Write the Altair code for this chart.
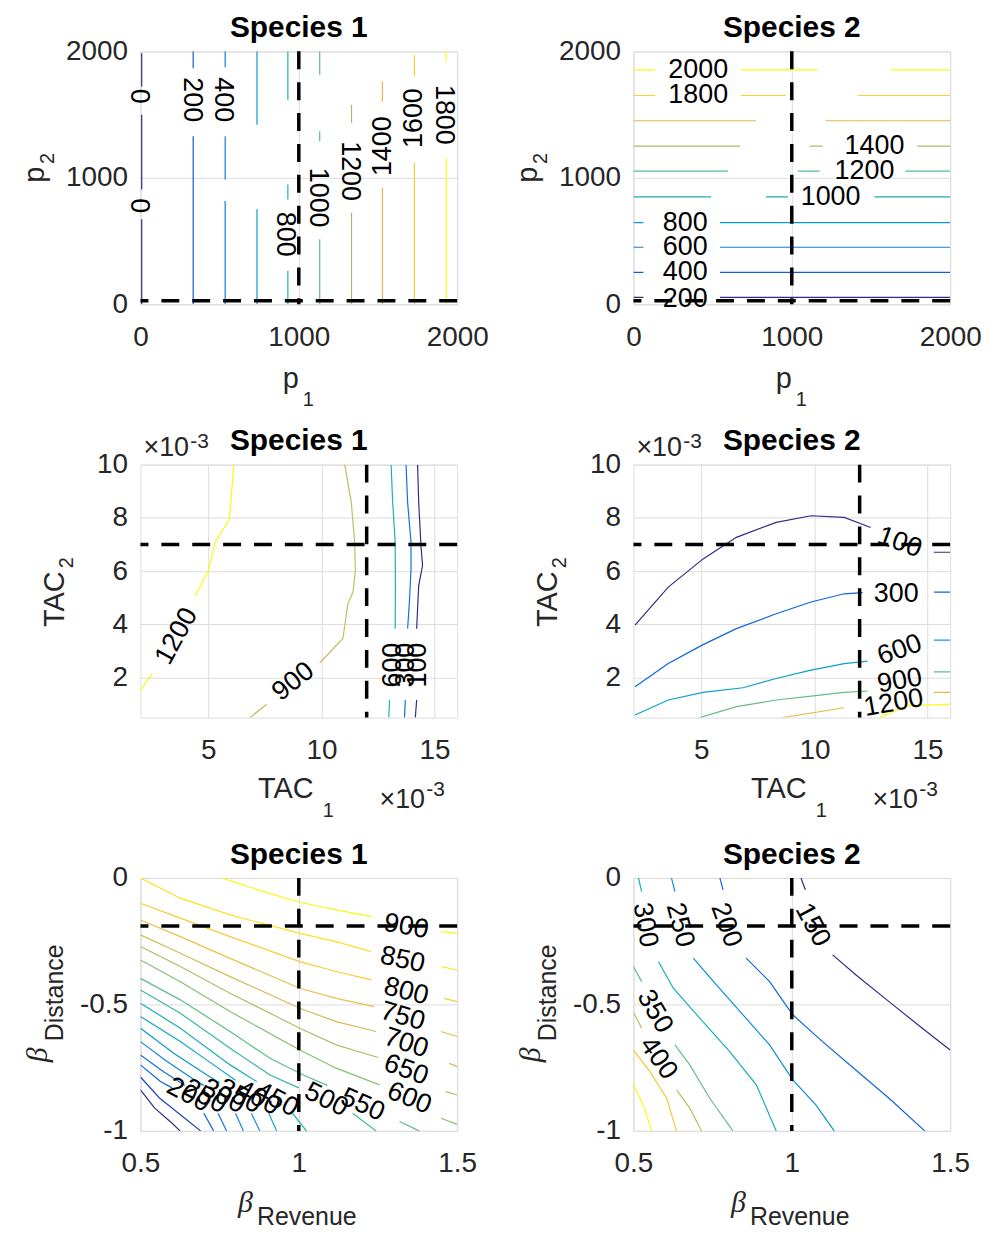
import altair as alt
import pandas as pd

FONT = "Liberation Sans"
SERIF = "Liberation Serif"
W, H = 318, 254
TICK_FS = 28
LAB_FS = 27
TITLE_FS = 30
AX_FS = 29
SUB_FS = 20
AXC = "#262626"

# ---------------- data ----------------
# Panel A  (Species 1, p1 vs p2): vertical contour lines, drawn as spans of p2
A_levels = [0, 200, 400, 600, 800, 1000, 1200, 1400, 1600, 1800]
A_xpos = [8, 333, 535, 736, 931, 1132, 1333, 1528, 1730, 1931]
A_spans = [
    [(1984, 1722), (1499, 908), (672, 0)],
    [(2000, 1866), (1328, 0)],
    [(2000, 1874), (1328, 987), (817, 0)],
    [(2000, 1420), (751, 0)],
    [(2000, 1617), (948, 829), (265, 0)],
    [(2000, 1814), (1368, 1289), (514, 0)],
    [(1577, 1433), (724, 0)],
    [(1761, 1604), (921, 0)],
    [(1971, 1801), (1118, 0)],
    [(2000, 1919), (1157, 0)],
]
A_lab_text = ["0", "0", "200", "400", "800", "1000", "1200", "1400", "1600", "1800"]
A_lab_x = [-10, -10, 327, 523, 913, 1122, 1321, 1532, 1730, 1919]
A_lab_y = [1646, 780, 1617, 1617, 554, 843, 1053, 1250, 1472, 1498]
A_lab_ang = [90, 90, 90, 90, 90, 90, 90, 270, 270, 90]

# Panel B  (Species 2, p1 vs p2): horizontal contour lines, drawn as spans of p1
B_levels = [200, 400, 600, 800, 1000, 1200, 1400, 1600, 1800, 2000]
B_ypos = [55, 252, 451, 646, 850, 1053, 1250, 1451, 1651, 1853]
B_spans = [
    [(0, 63), (547, 2000)],
    [(0, 63), (547, 2000)],
    [(0, 63), (547, 2000)],
    [(0, 63), (547, 2000)],
    [(0, 491), (836, 975), (1522, 2000)],
    [(0, 597), (1038, 1176), (1717, 2000)],
    [(0, 673), (1113, 1195), (1792, 2000)],
    [(0, 774), (1214, 2000)],
    [(0, 138), (679, 962), (1415, 2000)],
    [(0, 138), (679, 1164), (1623, 2000)],
]
B_lab_text = ["200", "400", "600", "800", "1000", "1200", "1400", "1800", "2000"]
B_lab_x = [327, 327, 327, 327, 1245, 1459, 1522, 409, 409]
B_lab_y = [45, 252, 451, 646, 850, 1053, 1250, 1651, 1853]

# Panel C  (Species 1, TAC1 vs TAC2, units of 1e-3)
C_levels = [100, 300, 600, 900, 1200]
C_pieces = [
    [[(14.25, 10), (14.30, 8.58), (14.40, 6.96), (14.47, 6.21), (14.30, 5.46), (14.21, 3.84)],
     [(14.21, 1.16), (14.15, 0.5)]],
    [[(13.74, 10), (13.81, 8.58), (13.96, 7.08), (13.96, 6.08), (13.89, 4.84), (13.81, 3.84)],
     [(13.71, 1.16), (13.67, 0.5)]],
    [[(13.08, 10), (13.15, 8.58), (13.26, 7.08), (13.27, 5.46), (13.26, 3.84)],
     [(13.01, 1.16), (12.98, 0.5)]],
    [[(11.03, 10), (11.32, 8.58), (11.47, 7.08), (11.50, 6.0), (11.39, 5.2), (11.17, 4.78),
      (10.95, 3.47), (9.93, 2.56)],
     [(7.58, 1.0), (6.84, 0.5)]],
    [[(6.13, 10), (6.04, 9.08), (5.93, 7.95), (5.30, 7.08), (5.01, 6.02), (4.42, 5.06)],
     [(2.51, 2.16), (2.0, 1.5)]],
]
C_lab_text = ["1200", "900", "600", "300", "100"]
C_lab_x = [3.6, 8.75, 13.15, 13.76, 14.26]
C_lab_y = [3.56, 1.85, 2.47, 2.47, 2.47]
C_lab_ang = [299, 322, 270, 270, 270]

# Panel D  (Species 2, TAC1 vs TAC2, units of 1e-3)
D_levels = [100, 300, 600, 900, 1200, 1500]
D_pieces = [
    [[(2.07, 3.97), (3.54, 5.40), (5.08, 6.46), (6.55, 7.27), (8.31, 7.83), (9.85, 8.08),
      (11.32, 8.02), (12.49, 7.64)],
     [(15.28, 6.71), (16.0, 6.71)]],
    [[(2.07, 1.66), (3.54, 2.53), (5.08, 3.24), (6.55, 3.84), (8.31, 4.40), (9.85, 4.84),
      (11.32, 5.15), (12.13, 5.19)],
     [(15.28, 5.21), (16.0, 5.21)]],
    [[(2.07, 0.6), (3.54, 1.16), (5.08, 1.45), (6.84, 1.62), (8.31, 1.97), (9.85, 2.28),
      (11.32, 2.53), (12.35, 2.62)],
     [(15.28, 3.41), (16.0, 3.41)]],
    [[(4.93, 0.5), (6.55, 0.91), (8.31, 1.16), (9.85, 1.31), (11.32, 1.45), (12.35, 1.50)],
     [(15.28, 2.22), (16.0, 2.22)]],
    [[(8.60, 0.5), (11.32, 0.87)],
     [(15.28, 1.45), (16.0, 1.45)]],
    [[(12.86, 0.5), (14.11, 0.95), (16.0, 1.0)]],
]
D_lab_text = ["100", "300", "600", "900", "1200"]
D_lab_x = [13.77, 13.62, 13.77, 13.77, 13.5]
D_lab_y = [7.08, 5.15, 3.04, 1.88, 1.05]
D_lab_ang = [20, 0, 340, 350, 350]

# Panel E  (Species 1, beta_Revenue vs beta_Distance)
E_levels = [100, 150, 200, 250, 300, 350, 400, 450, 500, 550, 600, 650, 700, 750, 800, 850, 900]
E_pieces = [
    [[(0.5, -0.838), (0.545, -0.91), (0.6, -0.97), (0.625, -1.0)]],
    [[(0.5, -0.787), (0.56, -0.87), (0.64, -0.95), (0.69, -1.0)]],
    [[(0.5, -0.739), (0.563, -0.805), (0.6, -0.83)], [(0.70, -0.93), (0.731, -1.0)]],
    [[(0.5, -0.700), (0.573, -0.766), (0.64, -0.82)], [(0.745, -0.93), (0.772, -1.0)]],
    [[(0.5, -0.647), (0.584, -0.726), (0.678, -0.805), (0.70, -0.82)], [(0.80, -0.93), (0.825, -1.0)]],
    [[(0.5, -0.594), (0.605, -0.693), (0.71, -0.779), (0.75, -0.81)], [(0.85, -0.93), (0.877, -1.0)]],
    [[(0.5, -0.548), (0.626, -0.647), (0.731, -0.739), (0.80, -0.80)], [(0.905, -0.93), (0.93, -1.0)]],
    [[(0.5, -0.495), (0.626, -0.594), (0.783, -0.739), (0.867, -0.805)], [(0.98, -0.93), (1.024, -1.0)]],
    [[(0.5, -0.443), (0.626, -0.535), (0.783, -0.673), (0.909, -0.779), (1.0, -0.83)],
     [(1.17, -0.93), (1.244, -1.0)]],
    [[(0.5, -0.397), (0.626, -0.482), (0.783, -0.607), (0.909, -0.713), (1.014, -0.779), (1.09, -0.82)],
     [(1.318, -0.963), (1.38, -1.0)]],
    [[(0.5, -0.324), (0.626, -0.41), (0.783, -0.528), (1.003, -0.680), (1.118, -0.752), (1.255, -0.818)],
     [(1.449, -0.950), (1.5, -0.974)]],
    [[(0.5, -0.271), (0.626, -0.350), (0.783, -0.456), (1.003, -0.594), (1.118, -0.660), (1.25, -0.710)],
     [(1.464, -0.845), (1.5, -0.858)]],
    [[(0.5, -0.225), (0.626, -0.298), (0.783, -0.390), (1.003, -0.515), (1.118, -0.568), (1.244, -0.607)],
     [(1.475, -0.733), (1.5, -0.746)]],
    [[(0.5, -0.166), (0.626, -0.232), (0.783, -0.318), (1.003, -0.436), (1.118, -0.476), (1.239, -0.509)],
     [(1.449, -0.607), (1.5, -0.627)]],
    [[(0.5, -0.100), (0.626, -0.159), (0.783, -0.232), (1.003, -0.331), (1.118, -0.370), (1.229, -0.403)],
     [(1.459, -0.476), (1.5, -0.489)]],
    [[(0.5, 0.0), (0.626, -0.080), (0.783, -0.146), (1.003, -0.219), (1.118, -0.252), (1.229, -0.291)],
     [(1.449, -0.350), (1.5, -0.364)]],
    [[(0.757, 0.0), (0.888, -0.054), (1.003, -0.096), (1.118, -0.126), (1.229, -0.153)],
     [(1.449, -0.212), (1.5, -0.219)]],
]
E_lab_text = ["900", "850", "800", "750", "700", "650", "600", "550", "500",
              "450", "400", "350", "300", "250", "200"]
E_lab_x = [1.339, 1.328, 1.339, 1.328, 1.339, 1.339, 1.349, 1.202, 1.087,
           0.930, 0.872, 0.814, 0.762, 0.704, 0.652]
E_lab_y = [-0.192, -0.324, -0.449, -0.548, -0.653, -0.759, -0.871, -0.897, -0.877,
           -0.877, -0.871, -0.864, -0.864, -0.864, -0.858]
E_lab_ang = [10, 12, 14, 16, 18, 20, 22, 24, 26, 28, 28, 28, 28, 28, 28]

# Panel F  (Species 2, beta_Revenue vs beta_Distance)
F_levels = [150, 200, 250, 300, 350, 400, 450, 500]
F_pieces = [
    [[(1.029, 0.0), (1.043, -0.047)],
     [(1.129, -0.304), (1.202, -0.383), (1.307, -0.489), (1.412, -0.594), (1.5, -0.680)]],
    [[(0.773, 0.0), (0.783, -0.047)],
     [(0.856, -0.317), (0.930, -0.410), (1.003, -0.541), (1.097, -0.647), (1.202, -0.759),
      (1.307, -0.871), (1.42, -1.0)]],
    [[(0.620, 0.0), (0.631, -0.054)],
     [(0.689, -0.317), (0.762, -0.423), (0.846, -0.541), (0.930, -0.660), (1.003, -0.798),
      (1.076, -0.897), (1.134, -1.0)]],
    [[(0.516, 0.0), (0.526, -0.054)],
     [(0.579, -0.331), (0.626, -0.436), (0.710, -0.555), (0.804, -0.687), (0.888, -0.818),
      (0.951, -1.0)]],
    [[(0.5, -0.35), (0.526, -0.410)],
     [(0.631, -0.660), (0.678, -0.739), (0.741, -0.871), (0.814, -1.0)]],
    [[(0.5, -0.53), (0.526, -0.594)],
     [(0.636, -0.838), (0.678, -0.910), (0.715, -1.0)]],
    [[(0.5, -0.68), (0.552, -0.766), (0.605, -0.871), (0.636, -1.0)]],
    [[(0.5, -0.815), (0.531, -0.897), (0.558, -1.0)]],
]
F_lab_text = ["150", "200", "250", "300", "350", "400"]
F_lab_x = [1.066, 0.793, 0.647, 0.537, 0.568, 0.579]
F_lab_y = [-0.186, -0.186, -0.186, -0.186, -0.528, -0.713]
F_lab_ang = [62, 70, 75, 80, 60, 55]

# reference (dashed) lines
A_ref = (1000, 28)
B_ref = (1000, 28)
C_ref = (12, 7)
D_ref = (12, 7)
E_ref = (1, -0.19)
F_ref = (1, -0.19)

# ---------------- colour map (parula) ----------------
PARULA = [(0.2081, 0.1663, 0.5292), (0.0591, 0.3598, 0.8683), (0.0723, 0.4887, 0.8467),
          (0.0265, 0.6137, 0.8135), (0.0843, 0.6928, 0.7062), (0.3482, 0.7424, 0.5473),
          (0.6473, 0.7456, 0.4188), (0.8824, 0.7274, 0.3217), (0.9880, 0.8066, 0.1794),
          (0.9763, 0.9831, 0.0538)]


def parula(t):
    t = min(max(t, 0.0), 1.0)
    n = len(PARULA) - 1
    i = min(int(t * n), n - 1)
    f = t * n - i
    c = [PARULA[i][k] * (1 - f) + PARULA[i + 1][k] * f for k in range(3)]
    return "#%02x%02x%02x" % tuple(int(round(v * 255)) for v in c)


def lines_df(levels, pieces):
    lo, hi = min(levels), max(levels)
    rows = []
    for lev, plist in zip(levels, pieces):
        col = parula((lev - lo) / (hi - lo))
        for j, pts in enumerate(plist):
            for k, (x, y) in enumerate(pts):
                rows.append(dict(lev=lev, pid=f"{lev}_{j}", k=k, x=x, y=y, c=col))
    return pd.DataFrame(rows)


def vertical_pieces(xpos, spans):
    return [[[(x, a), (x, b)] for (a, b) in sp] for x, sp in zip(xpos, spans)]


def horizontal_pieces(ypos, spans):
    return [[[(a, y), (b, y)] for (a, b) in sp] for y, sp in zip(ypos, spans)]


def lab_df(texts, xs, ys, angs=None):
    if angs is None:
        angs = [0] * len(texts)
    return pd.DataFrame(dict(t=texts, x=xs, y=ys, a=angs))


def ann(text, x, y, size, align="left", angle=0, weight="normal", font=FONT,
        style="normal", color=AXC, baseline="alphabetic"):
    return alt.Chart(pd.DataFrame({"t": [text]})).mark_text(
        x=x, y=y, fontSize=size, align=align, angle=angle, fontWeight=weight,
        font=font, fontStyle=style, color=color, baseline=baseline
    ).encode(text="t:N")


def panel(ldf, labs, ref, xdom, ydom, xticks, yticks, annots):
    xs = alt.Scale(domain=xdom, nice=False, zero=False)
    ys = alt.Scale(domain=ydom, nice=False, zero=False)
    common = dict(title=None, grid=True, ticks=False, domain=False,
                  labelExpr="toString(datum.value)", labelFlush=False, labelOverlap=False,
                  labelFont=FONT, labelFontSize=TICK_FS, labelColor=AXC,
                  gridColor="#dcdcdc", gridWidth=1)
    xa = alt.Axis(values=xticks, labelPadding=19, **common)
    ya = alt.Axis(values=yticks, labelPadding=13, **common)
    X = alt.X("x:Q", scale=xs, axis=xa)
    Y = alt.Y("y:Q", scale=ys, axis=ya)
    lines = alt.Chart(ldf).mark_line(strokeWidth=1.2, clip=True).encode(
        x=X, y=Y, detail="pid:N", order="k:Q", color=alt.Color("c:N", scale=None))
    dash = dict(color="black", strokeWidth=3.5, strokeDash=[18, 13])
    vr = alt.Chart(pd.DataFrame({"x": [ref[0]]})).mark_rule(**dash).encode(x=X)
    hr = alt.Chart(pd.DataFrame({"y": [ref[1]]})).mark_rule(**dash).encode(y=Y)
    lt = alt.Chart(labs).mark_text(font=FONT, fontSize=LAB_FS, color="black",
                                   align="center", baseline="middle").encode(
        x=X, y=Y, text="t:N", angle=alt.Angle("a:Q", scale=None))
    return alt.layer(lines, vr, hr, lt, *annots).properties(width=W, height=H)


def title(t):
    return ann(t, W / 2, -14.5, TITLE_FS, align="center", weight="bold", color="black")


def row1_annots(t):
    return [title(t),
            ann("p", 143, 338, AX_FS), ann("1", 163, 356, SUB_FS),
            ann("p", -97, 132, AX_FS, angle=270), ann("2", -87, 113, SUB_FS, angle=270)]


def row2_annots(t):
    return [title(t),
            ann("×10", 3, -9, 27), ann("-3", 50, -17, 21),
            ann("TAC", 118, 335, AX_FS), ann("1", 183, 354, SUB_FS),
            ann("×10", 240, 345, 27), ann("-3", 287, 333, 21),
            ann("TAC", -77, 163, AX_FS, angle=270), ann("2", -68, 104, SUB_FS, angle=270)]


def row3_annots(t):
    return [title(t),
            ann("β", 98, 335, 30, font=SERIF, style="italic"), ann("Revenue", 117, 348, 25),
            ann("β", -94, 185, 30, font=SERIF, style="italic", angle=270),
            ann("Distance", -78, 164, 25, angle=270)]


pA = panel(lines_df(A_levels, vertical_pieces(A_xpos, A_spans)),
           lab_df(A_lab_text, A_lab_x, A_lab_y, A_lab_ang), A_ref,
           [0, 2000], [0, 2000], [0, 1000, 2000], [0, 1000, 2000], row1_annots("Species 1"))
pB = panel(lines_df(B_levels, horizontal_pieces(B_ypos, B_spans)),
           lab_df(B_lab_text, B_lab_x, B_lab_y), B_ref,
           [0, 2000], [0, 2000], [0, 1000, 2000], [0, 1000, 2000], row1_annots("Species 2"))
pC = panel(lines_df(C_levels, C_pieces), lab_df(C_lab_text, C_lab_x, C_lab_y, C_lab_ang), C_ref,
           [2, 16], [0.5, 10], [5, 10, 15], [2, 4, 6, 8, 10], row2_annots("Species 1"))
pD = panel(lines_df(D_levels, D_pieces), lab_df(D_lab_text, D_lab_x, D_lab_y, D_lab_ang), D_ref,
           [2, 16], [0.5, 10], [5, 10, 15], [2, 4, 6, 8, 10], row2_annots("Species 2"))
pE = panel(lines_df(E_levels, E_pieces), lab_df(E_lab_text, E_lab_x, E_lab_y, E_lab_ang), E_ref,
           [0.5, 1.5], [-1, 0], [0.5, 1, 1.5], [-1, -0.5, 0], row3_annots("Species 1"))
pF = panel(lines_df(F_levels, F_pieces), lab_df(F_lab_text, F_lab_x, F_lab_y, F_lab_ang), F_ref,
           [0.5, 1.5], [-1, 0], [0.5, 1, 1.5], [-1, -0.5, 0], row3_annots("Species 2"))

chart = alt.concat(pA, pB, pC, pD, pE, pF, columns=2,
                   spacing={"row": 161, "column": 177}, bounds="flush").properties(
    padding={"left": 12, "top": 2, "right": 0, "bottom": 0}
).configure_view(stroke=AXC, strokeWidth=1).configure(background="white")

chart.save("out.html", embed_options={"renderer": "svg", "actions": False})
